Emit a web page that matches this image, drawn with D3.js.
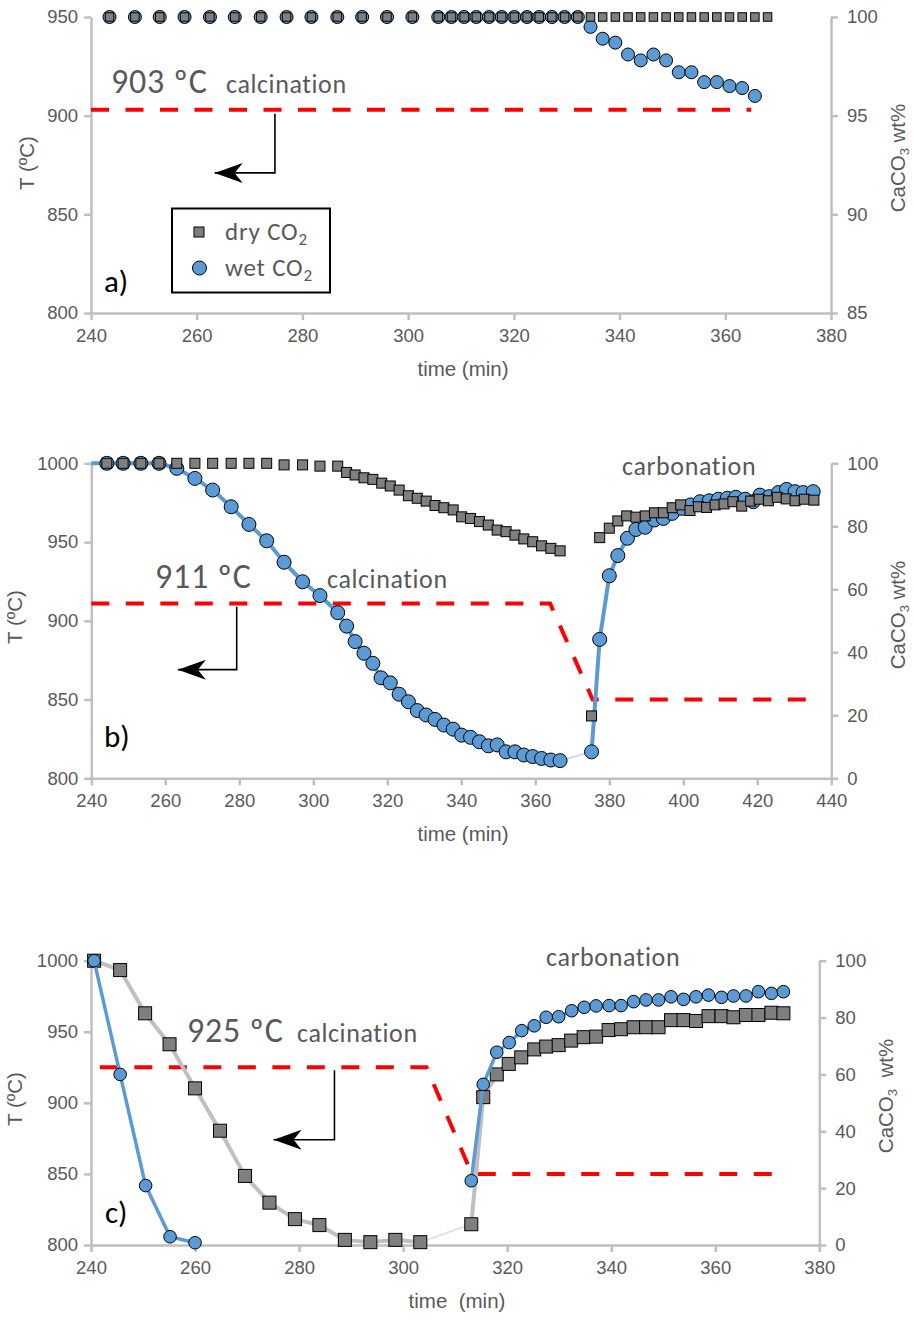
<!DOCTYPE html>
<html>
<head>
<meta charset="utf-8">
<script src="https://cdn.jsdelivr.net/npm/d3@7"></script>
<style>
  body { margin: 0; background: #fff; }
  svg { display: block; }
  .axis path, .axis line { stroke: #BFBFBF; stroke-width: 2.5; }
  .axis text { fill: #595959; font-family: "Liberation Sans", Arial, sans-serif; font-size: 18.5px; }
  .title { fill: #595959; font-family: "Liberation Sans", Arial, sans-serif; font-size: 20.5px; }
  .note { fill: #595959; font-family: Carlito, Lato, sans-serif; }
</style>
</head>
<body>
<svg id="chart" width="914" height="1320"></svg>
<script>
// panel a) 903 ºC, calcination only
var dryA = [[243.5,100],[248.3,100],[253.0,100],[257.7,100],[262.5,100],[267.2,100],[272.1,100],[277.0,100],
  [281.7,100],[286.6,100],[291.3,100],[296.0,100],[300.8,100],[305.7,100],[308.2,100],[310.6,100],[312.9,100],
  [315.3,100],[317.7,100],[320.1,100],[322.5,100],[324.8,100],[327.2,100],[329.6,100],[332.1,100],[334.5,100],
  [336.8,100],[339.2,100],[341.6,100],[344.0,100],[346.4,100],[348.8,100],[351.2,100],[353.6,100],[356.0,100],
  [358.4,100],[360.8,100],[363.2,100],[365.6,100],[368.0,100]];
var wetA = [[243.5,100],[248.3,100],[253.0,100],[257.7,100],[262.5,100],[267.2,100],[272.1,100],[277.0,100],
  [281.7,100],[286.6,100],[291.3,100],[296.0,100],[300.8,100],[305.7,100],[308.2,100],[310.6,100],[312.9,100],
  [315.3,100],[317.7,100],[320.1,100],[322.5,100],[324.8,100],[327.2,100],[329.6,100],[332.1,100],[334.5,99.5],
  [336.8,98.9],[339.2,98.7],[341.6,98.1],[344.0,97.8],[346.4,98.1],[348.8,97.8],[351.2,97.2],[353.6,97.2],
  [356.0,96.7],[358.4,96.7],[360.8,96.5],[363.2,96.4],[365.6,96.0]];
var tempA = [[240,903],[364.9,903]];

// panel b) 911 ºC calcination, then carbonation
var dryBcalc = [[244.2,100],[248.6,100],[253.4,100],[258.3,100],[263.1,100],[268.0,100],[272.8,100],[277.8,100],
  [282.6,100],[287.4,100],[292.1,99.5],[297.1,99.5],[301.8,99.1],[306.6,99.1],[309.0,97.1],[311.3,96.3],
  [313.7,95.4],[316.1,94.9],[318.5,93.7],[320.8,92.8],[323.2,91.5],[325.7,89.7],[328.1,88.9],[330.5,88.0],
  [332.9,86.6],[335.3,85.9],[337.8,85.2],[340.1,83.0],[342.5,82.5],[344.9,81.5],[347.3,80.4],[349.7,78.8],
  [352.1,78.3],[354.5,77.2],[356.9,76.0],[359.3,75.1],[361.7,73.8],[364.2,73.0],[366.7,72.2]];
var dryBcarb = [[375.2,19.8],[377.4,76.4],[380.0,79.4],[382.3,81.7],[384.7,83.3],[387.2,82.9],[389.7,83.3],
  [392.2,84.3],[394.6,84.3],[397.0,85.9],[399.3,86.8],[401.8,85.0],[404.1,86.2],[406.3,86.0],[408.6,86.8],
  [411.0,87.1],[413.4,87.8],[415.8,86.4],[418.2,88.0],[420.5,88.6],[423.0,88.1],[425.4,89.2],[427.8,88.7],
  [430.2,88.1],[432.7,88.6],[435.3,88.3]];
var wetBcalc = [[240,100],[244.2,100],[248.6,100],[253.4,100],[258.3,100],[263.1,98.4],[268.0,95.2],[272.8,91.5],
  [277.8,86.2],[282.6,80.6],[287.4,75.4],[292.1,68.6],[297.1,62.4],[301.8,58.0],[306.6,52.6],[309.0,48.3],
  [311.3,43.4],[313.7,39.7],[316.1,36.5],[318.3,31.9],[320.8,30.3],[323.2,26.7],[325.7,24.3],[328.1,21.5],
  [330.5,20.1],[332.9,18.7],[335.3,16.9],[337.8,15.6],[340.1,13.7],[342.5,13.0],[344.9,11.6],[347.3,10.3],
  [349.7,10.6],[352.1,8.4],[354.5,8.4],[356.9,7.4],[359.3,6.9],[361.7,6.3],[364.2,5.8],[366.7,5.6]];
var wetBcarb = [[375.2,8.4],[377.4,44.1],[380.0,64.3],[382.3,70.7],[384.9,76.2],[387.2,79.0],[389.7,79.7],
  [392.2,82.0],[394.6,82.5],[397.0,84.1],[399.6,85.7],[402.0,86.8],[404.5,87.8],[407.0,88.1],[409.5,88.6],
  [411.9,88.9],[414.2,89.2],[416.7,88.6],[418.9,87.8],[420.7,89.9],[423.2,89.4],[425.7,90.7],[427.9,91.7],
  [430.2,91.0],[432.4,90.7],[435.1,91.0]];
var tempB = [[240,911],[364,911],[375.5,850],[436,850]];

// panel c) 925 ºC calcination, then carbonation
var dryCcalc = [[240.6,100],[245.6,96.7],[250.4,81.5],[255.1,70.6],[260.0,55.1],[264.8,40.2],[269.6,24.3],
  [274.3,14.9],[279.2,9.1],[283.9,7.0],[288.8,1.8],[293.7,1.0],[298.5,1.8],[303.3,1.0]];
var dryCcarb = [[313.1,7.3],[315.4,52.0],[318.0,60.0],[320.3,63.7],[322.7,66.0],[325.2,68.8],[327.5,69.8],
  [329.9,70.3],[332.3,71.9],[334.7,73.1],[337.1,73.3],[339.5,75.6],[341.9,75.9],[344.3,76.6],[346.7,76.6],
  [349.1,76.6],[351.5,79.1],[353.9,79.1],[356.3,78.8],[358.7,80.5],[361.2,80.5],[363.5,80.1],[365.9,80.9],
  [368.3,80.9],[370.8,81.7],[373.1,81.5]];
var wetCcalc = [[240.6,100],[245.6,60.0],[250.5,20.9],[255.2,2.9],[260.0,0.8]];
var wetCcarb = [[313.1,22.6],[315.4,56.5],[318.0,67.8],[320.4,71.2],[322.8,75.4],[325.2,77.1],[327.5,80.1],
  [329.9,80.3],[332.4,82.4],[334.8,83.6],[337.1,84.1],[339.6,84.2],[341.9,84.2],[344.3,85.6],[346.7,86.2],
  [349.1,86.2],[351.5,87.3],[353.9,86.4],[356.3,87.3],[358.7,87.9],[361.2,87.1],[363.5,87.6],[365.9,87.6],
  [368.3,89.1],[370.8,88.5],[373.1,89.1]];
var tempC = [[241.7,925],[304.5,925],[313.2,850],[371,850]];

// arrow annotations: [time, T] top, corner, tip
var arrowA = [[274.8,901],[274.8,871],[263.4,871]];
var arrowB = [[279.3,909],[279.3,869],[263.4,869]];
var arrowC = [[286.8,923],[286.8,874],[275.1,874]];

var xTicksA = [240,260,280,300,320,340,360,380];
var xTicksB = [240,260,280,300,320,340,360,380,400,420,440];
var tTicksA = [800,850,900,950];
var tTicksBC = [800,850,900,950,1000];
var pTicksA = [85,90,95,100];
var pTicksBC = [0,20,40,60,80,100];

var svg = d3.select("#chart");
var blue = "#5B9BD5", grey = "#7F7F7F", lineGrey = "#BFBFBF";

function drawPanel(p) {
  var g = svg.append("g");
  var x = d3.scaleLinear().domain(p.xd).range([p.left, p.right]);
  var yT = d3.scaleLinear().domain(p.td).range([p.bottom, p.top]);
  var yP = d3.scaleLinear().domain(p.pd).range([p.bottom, p.top]);

  g.append("g").attr("class", "axis").attr("transform", "translate(0," + p.bottom + ")")
    .call(d3.axisBottom(x).tickValues(p.xTicks).tickFormat(d3.format("d")).tickSize(7).tickSizeOuter(0).tickPadding(9));
  g.append("g").attr("class", "axis").attr("transform", "translate(" + p.left + ",0)")
    .call(d3.axisLeft(yT).tickValues(p.tTicks).tickFormat(d3.format("d")).tickSize(7).tickSizeOuter(0).tickPadding(6));
  g.append("g").attr("class", "axis").attr("transform", "translate(" + p.right + ",0)")
    .call(d3.axisRight(yP).tickValues(p.pTicks).tickFormat(d3.format("d")).tickSize(7).tickSizeOuter(0).tickPadding(9));
  g.selectAll(".axis .domain").attr("stroke", lineGrey);

  var lineT = d3.line().x(function(d) { return x(d[0]); }).y(function(d) { return yT(d[1]); });
  var lineP = d3.line().x(function(d) { return x(d[0]); }).y(function(d) { return yP(d[1]); });

  // temperature program
  g.append("path").datum(p.temp).attr("d", lineT).attr("fill", "none")
    .attr("stroke", "#FF0000").attr("stroke-width", 4).attr("stroke-dasharray", "18,16.5");

  // arrow pointing to the T axis
  var ar = p.arrow;
  g.append("path").datum(ar).attr("d", lineT).attr("fill", "none").attr("stroke", "#000").attr("stroke-width", 1.6);
  var tx = x(ar[2][0]), ty = yT(ar[2][1]);
  g.append("path").attr("d", "M" + tx + "," + ty + "l28,-10l-8,10l8,10z").attr("fill", "#000");

  function series(s) {
    s.lines.forEach(function(l) {
      g.append("path").datum(l.data).attr("d", lineP).attr("fill", "none")
        .attr("stroke", l.color).attr("stroke-width", l.width);
    });
    var pts = s.marks.filter(function(d) { return d[0] > 240; });
    if (s.kind == "circle") {
      g.selectAll(null).data(pts).enter().append("circle")
        .attr("cx", function(d) { return x(d[0]); }).attr("cy", function(d) { return yP(d[1]); })
        .attr("r", p.r).attr("fill", blue).attr("stroke", "#000").attr("stroke-width", 1);
    } else {
      g.selectAll(null).data(pts).enter().append("rect")
        .attr("x", function(d) { return x(d[0]) - p.sq / 2; }).attr("y", function(d) { return yP(d[1]) - p.sq / 2; })
        .attr("width", p.sq).attr("height", p.sq).attr("fill", grey).attr("stroke", "#000").attr("stroke-width", 1);
    }
  }
  p.series.forEach(series);

  // texts
  p.notes.forEach(function(n) {
    g.append("text").attr("class", "note").attr("x", n.x).attr("y", n.y)
      .attr("font-size", n.size).attr("letter-spacing", n.ls || 0)
      .style("fill", n.color || "#595959").text(n.text);
  });
  g.append("text").attr("class", "title").attr("x", p.xTitle[0]).attr("y", p.xTitle[1])
    .attr("text-anchor", "middle").style("white-space", "pre").text(p.xTitle[2]);
  g.append("text").attr("class", "title").attr("text-anchor", "middle")
    .attr("transform", "translate(" + p.tTitle[0] + "," + p.tTitle[1] + ") rotate(-90)").text("T (ºC)");
  var rt = g.append("text").attr("class", "title").attr("text-anchor", "middle").style("white-space", "pre")
    .attr("transform", "translate(" + p.pTitle[0] + "," + p.pTitle[1] + ") rotate(-90)");
  rt.append("tspan").text("CaCO");
  rt.append("tspan").attr("font-size", 13).attr("dy", 4).text("3");
  rt.append("tspan").attr("dy", -4).text(p.pTitle[2]);
  return { g: g, x: x, yP: yP };
}

var big = 34, mid = 26;

var pa = drawPanel({
  xd: [240, 380], left: 91, right: 831, td: [800, 950], pd: [85, 100], top: 17, bottom: 313,
  xTicks: xTicksA, tTicks: tTicksA, pTicks: pTicksA, r: 6.5, sq: 8.5,
  temp: tempA, arrow: arrowA,
  series: [
    { kind: "circle", marks: wetA, lines: [] },
    { kind: "square", marks: dryA, lines: [] }
  ],
  notes: [
    { x: 111, y: 93, size: big, ls: 0.8, text: "903 ºC" },
    { x: 226, y: 93, size: mid, ls: 0.6, text: "calcination" },
    { x: 104, y: 292, size: 31, text: "a)", color: "#000" }
  ],
  xTitle: [463, 376, "time (min)"], tTitle: [34, 163], pTitle: [905, 158, " wt%"]
});

// legend in panel a
var leg = pa.g.append("g");
leg.append("rect").attr("x", 172).attr("y", 208.5).attr("width", 158).attr("height", 84)
  .attr("fill", "#fff").attr("stroke", "#000").attr("stroke-width", 2);
leg.append("rect").attr("x", 194).attr("y", 227).attr("width", 10).attr("height", 10)
  .attr("fill", grey).attr("stroke", "#000");
leg.append("circle").attr("cx", 199.5).attr("cy", 268).attr("r", 7).attr("fill", blue).attr("stroke", "#000");
[["dry CO", 240], ["wet CO", 276]].forEach(function(l) {
  var t = leg.append("text").attr("class", "note").attr("x", 225).attr("y", l[1])
    .attr("font-size", 25).attr("letter-spacing", 0.8);
  t.append("tspan").text(l[0]);
  t.append("tspan").attr("font-size", 17).attr("dy", 5).text("2");
});

drawPanel({
  xd: [240, 440], left: 91.3, right: 831.3, td: [800, 1000], pd: [0, 100], top: 463.3, bottom: 778.3,
  xTicks: xTicksB, tTicks: tTicksBC, pTicks: pTicksBC, r: 7, sq: 10,
  temp: tempB, arrow: arrowB,
  series: [
    { kind: "circle", marks: wetBcalc.concat(wetBcarb), lines: [
      { data: [wetBcalc[wetBcalc.length - 1], wetBcarb[0]], color: "#C9DCF0", width: 2 },
      { data: wetBcalc, color: blue, width: 4 },
      { data: wetBcarb, color: blue, width: 4 } ] },
    { kind: "square", marks: dryBcalc.concat(dryBcarb), lines: [] }
  ],
  notes: [
    { x: 155, y: 588, size: big, ls: 0.8, text: "911 ºC" },
    { x: 327, y: 588, size: mid, ls: 0.6, text: "calcination" },
    { x: 622, y: 475, size: mid, ls: 0.6, text: "carbonation" },
    { x: 104, y: 747, size: 31, text: "b)", color: "#000" }
  ],
  xTitle: [463, 841, "time (min)"], tTitle: [22, 617], pTitle: [905, 615, " wt%"]
});

drawPanel({
  xd: [240, 380], left: 91, right: 819.3, td: [800, 1000], pd: [0, 100], top: 960.7, bottom: 1245,
  xTicks: xTicksA, tTicks: tTicksBC, pTicks: pTicksBC, r: 6.3, sq: 13,
  temp: tempC, arrow: arrowC,
  series: [
    { kind: "square", marks: dryCcalc.concat(dryCcarb), lines: [
      { data: [dryCcalc[dryCcalc.length - 1], dryCcarb[0]], color: "#E3E3E3", width: 2 },
      { data: dryCcalc, color: lineGrey, width: 4 },
      { data: dryCcarb, color: lineGrey, width: 4 } ] },
    { kind: "circle", marks: wetCcalc.concat(wetCcarb), lines: [
      { data: wetCcalc, color: blue, width: 3.5 },
      { data: wetCcarb, color: blue, width: 3.5 } ] }
  ],
  notes: [
    { x: 187, y: 1042, size: big, ls: 0.8, text: "925 ºC" },
    { x: 297, y: 1042, size: mid, ls: 0.6, text: "calcination" },
    { x: 546, y: 966, size: mid, ls: 0.6, text: "carbonation" },
    { x: 105, y: 1223, size: 31, text: "c)", color: "#000" }
  ],
  xTitle: [457, 1308, "time  (min)"], tTitle: [22, 1099], pTitle: [893, 1096, "  wt%"]
});
</script>
</body>
</html>
